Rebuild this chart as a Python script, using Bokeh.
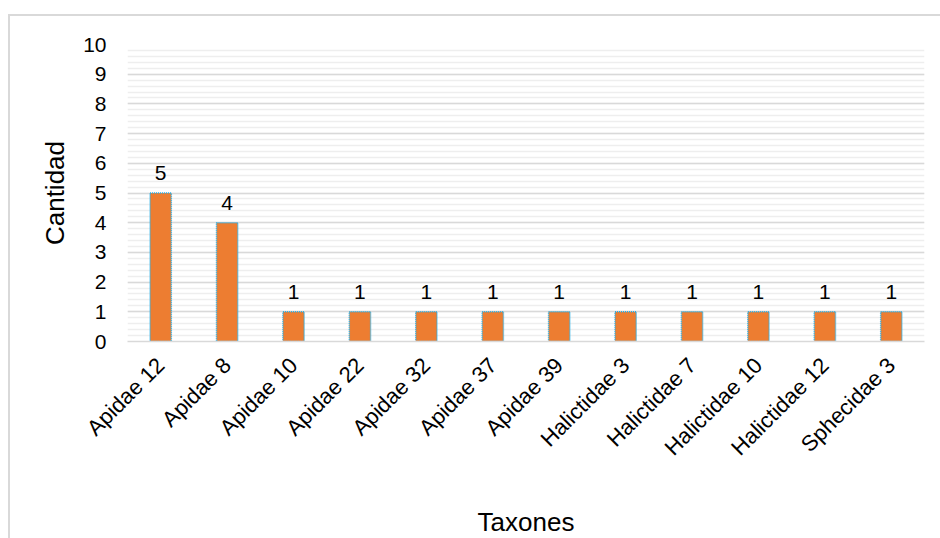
from bokeh.plotting import figure
from bokeh.models import ColumnDataSource, LabelSet, SingleIntervalTicker, Range1d, FactorRange
from bokeh.core.properties import value
from bokeh.embed import file_html
from bokeh.resources import INLINE
import math

categories = ["Apidae 12", "Apidae 8", "Apidae 10", "Apidae 22", "Apidae 32", "Apidae 37",
              "Apidae 39", "Halictidae 3", "Halictidae 7", "Halictidae 10", "Halictidae 12", "Sphecidae 3"]
counts = [5, 4, 1, 1, 1, 1, 1, 1, 1, 1, 1, 1]

FONT = "Liberation Sans"

src = ColumnDataSource(dict(cat=categories, val=counts, lab=[str(v) for v in counts]))

p = figure(x_range=FactorRange(*categories, range_padding=0), y_range=Range1d(0, 10),
           width=930, height=522, frame_width=797, frame_height=297,
           min_border_left=117, min_border_right=16, min_border_top=28, min_border_bottom=197,
           output_backend="svg", toolbar_location=None)
p.styles = {"border-left": "2px solid #d9d9d9", "border-top": "2px solid #d9d9d9",
            "margin-top": "14px", "margin-left": "8px"}

p.vbar(x="cat", top="val", width=0.32, source=src, fill_color="#ED7D31",
       line_color="#22B0EA", line_width=1.5, line_dash="1 1")

labels = LabelSet(x="cat", y="val", text="lab", source=src, text_align="center",
                  text_baseline="bottom", y_offset=13, text_font_size="21px",
                  text_font=value(FONT), text_color="#000000")
p.add_layout(labels)

p.outline_line_color = None
p.background_fill_color = "white"
p.border_fill_color = "white"

p.yaxis.ticker = SingleIntervalTicker(interval=1, num_minor_ticks=5)
p.ygrid.ticker = SingleIntervalTicker(interval=1, num_minor_ticks=5)
p.ygrid.grid_line_color = "#d9d9d9"
p.ygrid.grid_line_width = 1.5
p.ygrid.minor_grid_line_color = "#eeeeee"
p.ygrid.minor_grid_line_width = 1.5
p.xgrid.grid_line_color = None

p.yaxis.axis_line_color = None
p.yaxis.major_tick_line_color = None
p.yaxis.minor_tick_line_color = None
p.yaxis.major_label_standoff = 15
p.yaxis.major_label_text_font_size = "21px"
p.yaxis.major_label_text_font = FONT
p.yaxis.major_label_text_color = "#000000"
p.yaxis.axis_label = "Cantidad"
p.yaxis.axis_label_text_font_size = "26px"
p.yaxis.axis_label_text_font = FONT
p.yaxis.axis_label_text_font_style = "normal"
p.yaxis.axis_label_text_color = "#000000"
p.yaxis.axis_label_standoff = 10

p.xaxis.axis_line_color = "#d9d9d9"
p.xaxis.axis_line_width = 1.5
p.xaxis.major_tick_line_color = None
p.xaxis.minor_tick_line_color = None
p.xaxis.major_label_orientation = math.pi / 4
p.xaxis.major_label_standoff = 14
p.xaxis.major_label_text_font_size = "22px"
p.xaxis.major_label_text_font = FONT
p.xaxis.major_label_text_color = "#000000"
p.xaxis.axis_label = "Taxones"
p.xaxis.axis_label_text_font_size = "26px"
p.xaxis.axis_label_text_font = FONT
p.xaxis.axis_label_text_font_style = "normal"
p.xaxis.axis_label_text_color = "#000000"
p.xaxis.axis_label_standoff = 35

open("out.html", "w").write(file_html(p, INLINE))
